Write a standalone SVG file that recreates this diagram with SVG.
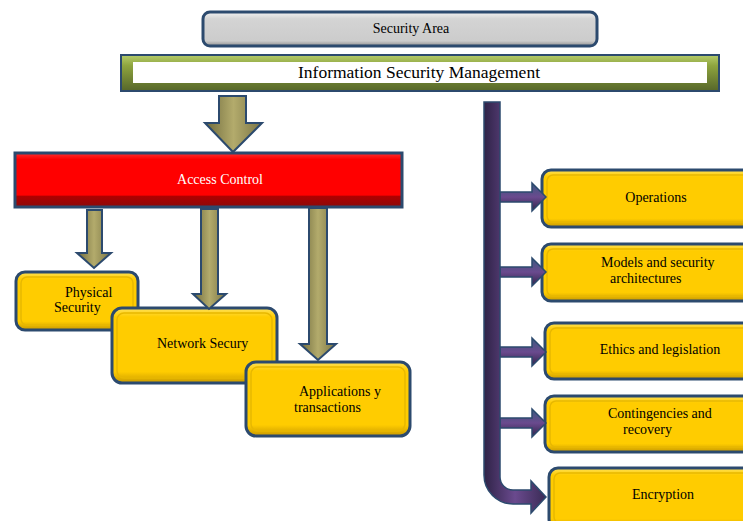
<svg xmlns="http://www.w3.org/2000/svg" width="743" height="521" viewBox="0 0 743 521">
<defs>
<linearGradient id="gYel" x1="0" y1="0" x2="0" y2="1">
<stop offset="0" stop-color="#ffe25a"/><stop offset="0.12" stop-color="#ffcc00"/><stop offset="0.85" stop-color="#ffcc00"/><stop offset="1" stop-color="#c99a00"/>
</linearGradient>
<linearGradient id="gGray" x1="0" y1="0" x2="0" y2="1">
<stop offset="0" stop-color="#f2f2f2"/><stop offset="0.2" stop-color="#d4d4d4"/><stop offset="0.85" stop-color="#cccccc"/><stop offset="1" stop-color="#8f8f8f"/>
</linearGradient>
<linearGradient id="gOlive" x1="0" y1="0" x2="0" y2="1">
<stop offset="0" stop-color="#b5cc6a"/><stop offset="0.3" stop-color="#8ea43e"/><stop offset="1" stop-color="#56662a"/>
</linearGradient>
<linearGradient id="gRed" x1="0" y1="0" x2="0" y2="1">
<stop offset="0" stop-color="#ff3030"/><stop offset="0.12" stop-color="#ff0000"/><stop offset="0.78" stop-color="#ff0000"/><stop offset="0.8" stop-color="#b00000"/><stop offset="1" stop-color="#8a0a0a"/>
</linearGradient>
<linearGradient id="gKhaki" x1="0" y1="0" x2="1" y2="0">
<stop offset="0" stop-color="#6f6a3c"/><stop offset="0.5" stop-color="#b3ab6c"/><stop offset="1" stop-color="#7a7444"/>
</linearGradient>
<linearGradient id="gPurpV" x1="0" y1="0" x2="1" y2="0">
<stop offset="0" stop-color="#2f2347"/><stop offset="0.5" stop-color="#6a4a8e"/><stop offset="1" stop-color="#3a2b55"/>
</linearGradient>
<linearGradient id="gPurpH" x1="0" y1="0" x2="0" y2="1">
<stop offset="0" stop-color="#3a5a80"/><stop offset="0.5" stop-color="#6a4a8e"/><stop offset="1" stop-color="#2f2347"/>
</linearGradient>
<style>
.ybox{fill:url(#gYel);stroke:#2c4a6e;stroke-width:3}
.yin{fill:none;stroke:#e8b800;stroke-width:1.5}
.karrow{fill:url(#gKhaki);stroke:#2c4a6e;stroke-width:2;stroke-linejoin:miter}
.parrow{fill:url(#gPurpH);stroke:#2c4a6e;stroke-width:1.5}
.t{font-family:"Liberation Serif","Times New Roman",serif;font-size:14px;fill:#000}
.tm{text-anchor:middle}
</style>
</defs>

<g id="security-area">
<rect x="203" y="12" width="394" height="34" rx="7" fill="url(#gGray)" stroke="#2c4a6e" stroke-width="3"/>
<text class="t tm" x="411" y="33">Security Area</text>
</g>

<g id="info-security-management">
<rect x="121" y="55" width="598" height="36" fill="url(#gOlive)" stroke="#2c4a6e" stroke-width="2"/>
<rect x="133" y="62" width="574" height="21" fill="#ffffff"/>
<text class="t tm" x="419" y="78" style="font-size:17.5px">Information Security Management</text>
</g>

<g id="access-control">
<rect x="15" y="153" width="387" height="54" fill="url(#gRed)" stroke="#2c4a6e" stroke-width="3"/>
<text class="t tm" x="220" y="184" style="fill:#ffffff">Access Control</text>
</g>

<g id="physical-security">
<rect class="ybox" x="16" y="272" width="122" height="58" rx="9"/>
<rect class="yin" x="21" y="277" width="112" height="48" rx="6"/>
<text class="t" x="65" y="297">Physical</text>
<text class="t" x="54" y="312">Security</text>
</g>

<g id="network-security">
<rect class="ybox" x="112" y="308" width="165" height="75" rx="10"/>
<rect class="yin" x="117" y="313" width="155" height="65" rx="7"/>
<text class="t" x="157" y="348">Network Secury</text>
</g>

<g id="applications">
<rect class="ybox" x="246" y="362" width="164" height="74" rx="10"/>
<rect class="yin" x="251" y="367" width="154" height="64" rx="7"/>
<text class="t" x="299" y="396">Applications y</text>
<text class="t" x="294" y="412">transactions</text>
</g>

<g id="operations">
<rect class="ybox" x="542" y="170" width="220" height="57" rx="9"/>
<rect class="yin" x="547" y="175" width="210" height="47" rx="6"/>
<text class="t tm" x="656" y="202">Operations</text>
</g>

<g id="models">
<rect class="ybox" x="542" y="244" width="220" height="57" rx="9"/>
<rect class="yin" x="547" y="249" width="210" height="47" rx="6"/>
<text class="t" x="601" y="267">Models and security</text>
<text class="t" x="610" y="283">architectures</text>
</g>

<g id="ethics">
<rect class="ybox" x="545" y="323" width="220" height="56" rx="9"/>
<rect class="yin" x="550" y="328" width="210" height="46" rx="6"/>
<text class="t tm" x="660" y="354">Ethics and legislation</text>
</g>

<g id="contingencies">
<rect class="ybox" x="545" y="396" width="220" height="56" rx="9"/>
<rect class="yin" x="550" y="401" width="210" height="46" rx="6"/>
<text class="t" x="608" y="418">Contingencies and</text>
<text class="t" x="623" y="434">recovery</text>
</g>

<g id="encryption">
<rect class="ybox" x="549" y="468" width="220" height="60" rx="9"/>
<rect class="yin" x="554" y="473" width="210" height="50" rx="6"/>
<text class="t tm" x="663" y="499">Encryption</text>
</g>

<g id="connectors">
<path class="karrow" d="M219,96 H246 V123 H262 L233,152 L205,123 H219 Z"/>
<path class="karrow" d="M87,210 H102 V253 H111 L94,268 L77,253 H87 Z"/>
<path class="karrow" d="M201,209 H218 V294 H226 L209,309 L193,294 H201 Z"/>
<path class="karrow" d="M309,208 H327 V344 H336 L318,360 L300,344 H309 Z"/>
<path class="parrow" d="M500,192 H532 V183 L546,197 L532,211 V202 H500 Z"/>
<path class="parrow" d="M500,267 H532 V258 L546,272 L532,286 V277 H500 Z"/>
<path class="parrow" d="M500,347 H532 V338 L546,352 L532,366 V357 H500 Z"/>
<path class="parrow" d="M500,418 H532 V409 L546,423 L532,437 V428 H500 Z"/>
<path d="M484,102 H500 V477 A13,13 0 0 0 513,490 H531 V481 L546,497 L531,513 V504 H513 A29,29 0 0 1 484,475 Z" fill="url(#gPurpV)" stroke="#2c4a6e" stroke-width="1.5"/>
</g>
</svg>
